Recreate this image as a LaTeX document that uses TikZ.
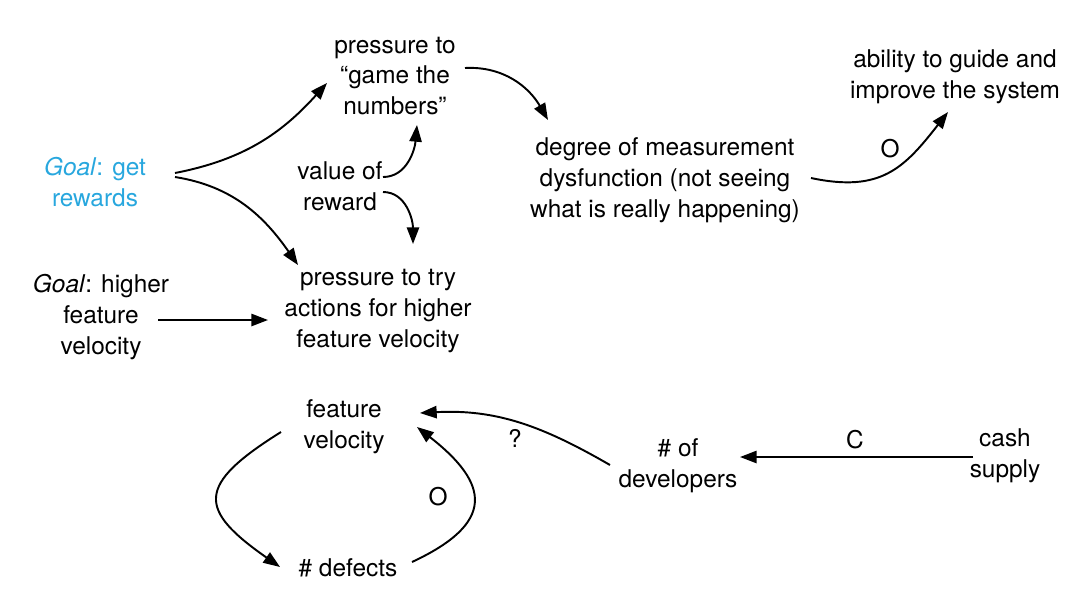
\documentclass[tikz,border=0pt]{standalone}
\usepackage{fontspec}
\setmainfont{TeX Gyre Heros}
\usetikzlibrary{arrows.meta}
\definecolor{goalblue}{RGB}{40,167,222}
\begin{document}
\begin{tikzpicture}[x=0.02cm,y=0.02cm]
\tikzstyle{every node}+=[inner sep=0pt,align=center,font=\fontsize{13.9}{17.5}\selectfont]
\tikzstyle{link}=[black,line width=1.1pt,-{Triangle[length=9.5pt,width=7pt]}]
\useasboundingbox (0,0) rectangle (1092,-606);
\node (game) at (395,-76) {pressure to\\“game the\\numbers”};
\node [goalblue] (rew) at (95,-182) {\textit{Goal}: get\\rewards};
\node (val) at (340,-186) {value of\\reward};
\node (try) at (378,-311) {pressure to try\\actions for higher\\feature velocity};
\node (goal) at (101,-317) {\textit{Goal}: higher\\feature\\velocity};
\node (deg) at (665,-180) {degree of measurement\\dysfunction (not seeing\\what is really happening)};
\node (abl) at (955,-77) {ability to guide and\\improve the system};
\node (fv) at (344,-427) {feature\\velocity};
\node (def) at (348,-568) {\# defects};
\node (dev) at (678,-466) {\# of\\developers};
\node (cash) at (1005,-456) {cash\\supply};
% links
\draw [link] ([shift={(80,9)}]rew.center) to[out=11,in=228] ([shift={(-68,-7)}]game.center);
\draw [link] ([shift={(80,5)}]rew.center) to[out=-9,in=125] ([shift={(-80,46)}]try.center);
\draw [link] ([shift={(43,9)}]val.center) to[out=0,in=-95] ([shift={(22,-49)}]game.center);
\draw [link] ([shift={(43,-6)}]val.center) to[out=0,in=90] ([shift={(35,67)}]try.center);
\draw [link] ([shift={(70,8)}]game.center) to[out=3,in=120] ([shift={(-117,60)}]deg.center);
\draw [link] ([shift={(146,2)}]deg.center) to[out=-12,in=232,looseness=1.2] ([shift={(-7,-35)}]abl.center);
\node (o1) at (890,-149) {O};
\draw [link] ([shift={(57,-3)}]goal.center) -- ([shift={(-110,-9)}]try.center);
% loop
\draw [link] ([shift={(-63,-5)}]fv.center) to[out=212,in=145,looseness=1.9] ([shift={(-68,1)}]def.center);
\draw [link] ([shift={(64,6)}]def.center) to[out=25,in=-38,looseness=1.75] ([shift={(73,0)}]fv.center);
\node (o2) at (438,-497) {O};
\draw [link] ([shift={(-68,1)}]dev.center) to[out=150,in=3] ([shift={(76,14)}]fv.center);
\node (q) at (515,-438) {?};
\draw [link] ([shift={(-32,-1)}]cash.center) -- ([shift={(62,9)}]dev.center);
\node (c) at (855,-440) {C};
\end{tikzpicture}
\end{document}
